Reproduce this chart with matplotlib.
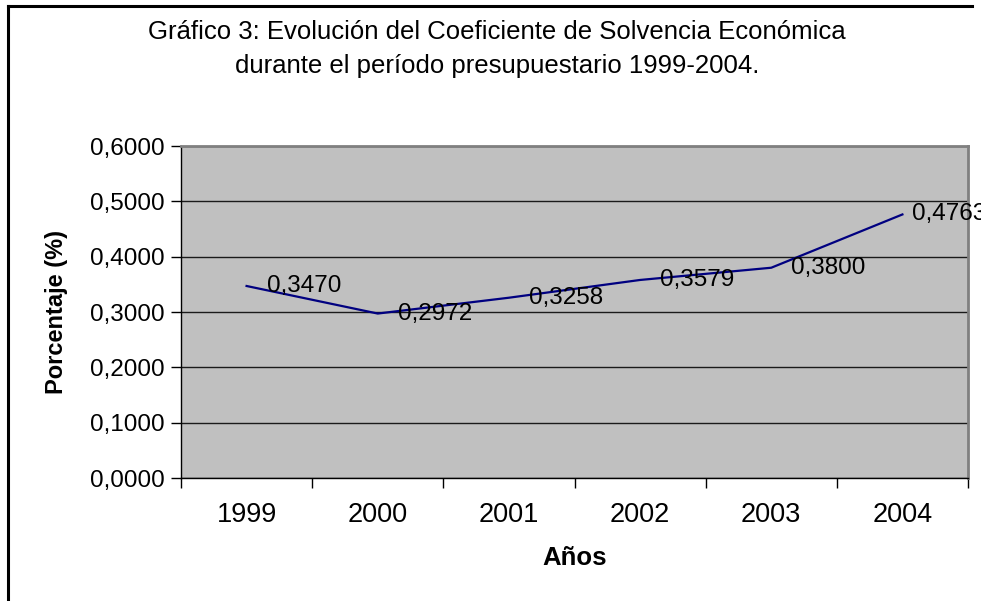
import matplotlib
matplotlib.use("Agg")
import matplotlib.pyplot as plt
from matplotlib.lines import Line2D

years = ["1999", "2000", "2001", "2002", "2003", "2004"]
values = [0.3470, 0.2972, 0.3258, 0.3579, 0.3800, 0.4763]
value_labels = ["0,3470", "0,2972", "0,3258", "0,3579", "0,3800", "0,4763"]
y_ticks = [0.0, 0.1, 0.2, 0.3, 0.4, 0.5, 0.6]
y_tick_labels = ["0,0000", "0,1000", "0,2000", "0,3000", "0,4000", "0,5000", "0,6000"]
title = "Gráfico 3: Evolución del Coeficiente de Solvencia Económica\ndurante el período presupuestario 1999-2004."

plt.rcParams['font.family'] = ['Liberation Sans', 'DejaVu Sans']

W, H = 981, 601
fig = plt.figure(figsize=(W / 100, H / 100), dpi=100)
ax = fig.add_axes([181 / W, 1 - 478 / H, (968 - 181) / W, (478 - 146) / H])
ax.set_facecolor('#C0C0C0')

x = list(range(len(years)))
ax.plot(x, values, color='#000080', lw=1.6, zorder=3)
for i, (xi, v, lab) in enumerate(zip(x, values, value_labels)):
    dx = 7 if i == len(x) - 1 else 14.5
    ax.annotate(lab, (xi, v), xytext=(dx, 0), textcoords='offset points',
                ha='left', va='center', fontsize=17.5, color='black',
                annotation_clip=False, zorder=4)

ax.set_xlim(-0.5, len(years) - 0.5)
ax.set_ylim(0, 0.6)
ax.set_yticks(y_ticks)
ax.set_yticklabels(y_tick_labels, fontsize=17.5)
ax.yaxis.grid(True, color='#1a1a1a', lw=1.0)
ax.set_axisbelow(True)
ax.tick_params(axis='y', direction='out', length=7, width=1, pad=5)

ax.set_xticks([i - 0.5 for i in range(len(years) + 1)])
ax.set_xticklabels([])
ax.tick_params(axis='x', which='major', direction='out', length=7, width=1)
ax.set_xticks(x, minor=True)
ax.set_xticklabels(years, minor=True, fontsize=19.5)
ax.tick_params(axis='x', which='minor', length=0, pad=17)

for s in ['left', 'bottom']:
    ax.spines[s].set_color('black')
    ax.spines[s].set_linewidth(1.0)
for s in ['top', 'right']:
    ax.spines[s].set_color('#808080')
    ax.spines[s].set_linewidth(2.0)

ax.set_ylabel("Porcentaje (%)", fontsize=17, fontweight='bold', va='center')
ax.yaxis.set_label_coords((57 - 181) / (968 - 181), 0.5)
ax.set_xlabel("Años", fontsize=18.5, fontweight='bold')
ax.xaxis.set_label_coords(0.5, -(558 - 478) / (478 - 146))
ax.xaxis.label.set_va('center')

fig.text(497 / W, 1 - 49 / H, title, ha='center', va='center', fontsize=18.5,
         linespacing=1.55)

# chart border (left and top visible)
fig.add_artist(Line2D([7.5 / W, 7.5 / W], [0, 1 - 5.5 / H], transform=fig.transFigure,
                      color='black', lw=2.2))
fig.add_artist(Line2D([7.5 / W, 972 / W], [1 - 5.5 / H, 1 - 5.5 / H], transform=fig.transFigure,
                      color='black', lw=2.2))

fig.savefig("out.png", dpi=100)
